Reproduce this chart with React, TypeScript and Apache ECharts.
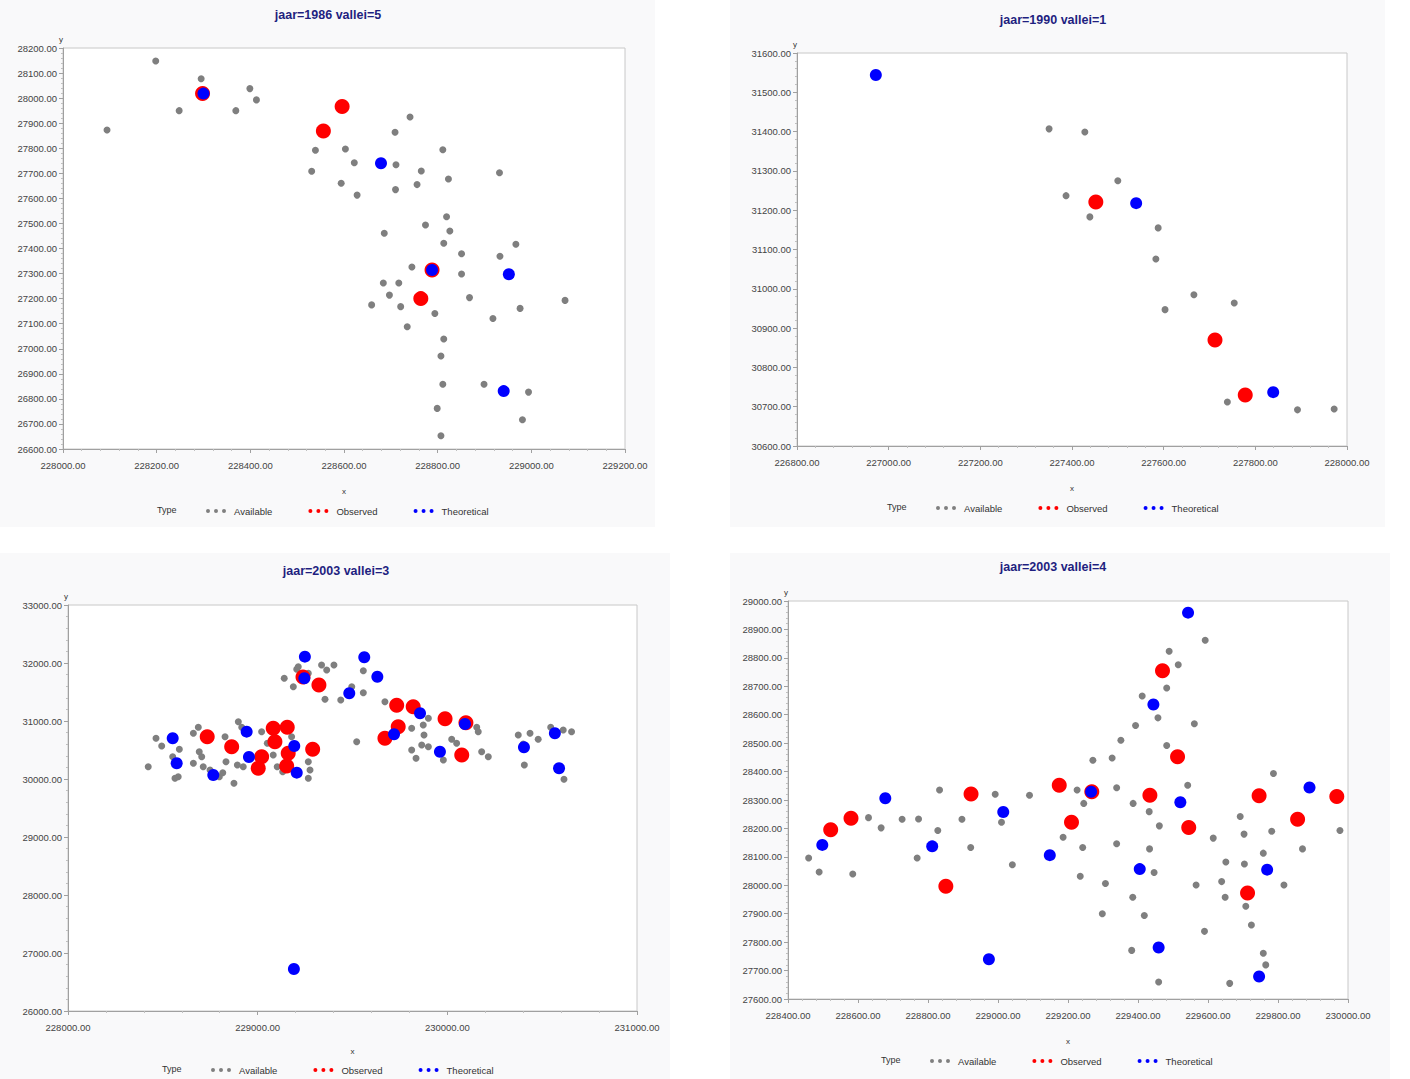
import React, { useEffect, useRef } from "react";
import * as echarts from "echarts";

// ---------- Data (x, y) ----------
const typeNames = ["Available", "Observed", "Theoretical"];
const panelTitles = ["jaar=1986 vallei=5", "jaar=1990 vallei=1", "jaar=2003 vallei=3", "jaar=2003 vallei=4"];

const p1Available: number[][] = [
  [228198, 28148], [228295, 28077], [228399, 28038], [228413, 27993], [228248, 27950], [228369, 27950],
  [228094, 27873], [228741, 27925], [228709, 27864], [228539, 27792], [228603, 27797], [228811, 27794],
  [228622, 27742], [228711, 27734], [228765, 27709], [228531, 27708], [228932, 27702], [228823, 27677],
  [228594, 27660], [228756, 27655], [228710, 27635], [228628, 27613], [228819, 27527], [228774, 27494],
  [228826, 27470], [228686, 27461], [228813, 27421], [228967, 27417], [228851, 27379], [228933, 27369],
  [228745, 27326], [228851, 27298], [228684, 27262], [228717, 27262], [228697, 27214], [228868, 27204],
  [229072, 27193], [228659, 27175], [228721, 27168], [228976, 27161], [228794, 27141], [228918, 27121],
  [228735, 27088], [228813, 27039], [228807, 26971], [228811, 26858], [228899, 26858], [228994, 26827],
  [228799, 26762], [228981, 26717], [228807, 26653]
];
const p1Observed: number[][] = [
  [228298, 28018], [228596, 27967], [228556, 27869], [228788, 27314], [228764, 27200]
];
const p1Theoretical: number[][] = [
  [228300, 28018], [228679, 27740], [228788, 27314], [228952, 27297], [228941, 26831]
];

const p2Available: number[][] = [
  [227350, 31407], [227428, 31399], [227387, 31237], [227500, 31275], [227439, 31183], [227588, 31155],
  [227583, 31076], [227666, 30985], [227603, 30947], [227754, 30964], [227739, 30712], [227892, 30692],
  [227972, 30694]
];
const p2Observed: number[][] = [
  [227452, 31221], [227712, 30870], [227778, 30730]
];
const p2Theoretical: number[][] = [
  [226972, 31544], [227540, 31218], [227839, 30737]
];

const p3Available: number[][] = [
  [228464, 30702], [228494, 30569], [228587, 30512], [228423, 30212], [228552, 30385], [228581, 30040],
  [228564, 30012], [228661, 30788], [228687, 30892], [228661, 30271], [228692, 30471], [228705, 30385],
  [228713, 30212], [228749, 30155], [228798, 30040], [228816, 30109], [228833, 30298], [228875, 29926],
  [228898, 30988], [228916, 30892], [228893, 30242], [228924, 30212], [228828, 30729], [229021, 30816],
  [229051, 30616], [229082, 30414], [229103, 30212], [229132, 30126], [229179, 30729], [229267, 30298],
  [229276, 30155], [229267, 30012], [229140, 31736], [229188, 31591], [229206, 31891], [229214, 31936],
  [229267, 31822], [229337, 31966], [229364, 31879], [229402, 31966], [229355, 31374], [229438, 31362],
  [229496, 31591], [229557, 31867], [229557, 31488], [229522, 30643], [229671, 31333], [229812, 30874],
  [229873, 30931], [229877, 30759], [229900, 31047], [229812, 30500], [229835, 30357], [229865, 30586],
  [229900, 30557], [229979, 30328], [230023, 30685], [230049, 30616], [230155, 30892], [230163, 30816],
  [230181, 30471], [230216, 30385], [230374, 30759], [230400, 30604], [230436, 30788], [230479, 30685],
  [230406, 30242], [230545, 30892], [230611, 30845], [230655, 30816], [230615, 29995]
];
const p3Observed: number[][] = [
  [229239, 31759], [229323, 31621], [229733, 31271], [229820, 31247], [229988, 31040], [230098, 30971],
  [228734, 30729], [229082, 30874], [229156, 30892], [229741, 30902], [228863, 30557], [229091, 30643],
  [229290, 30512], [229671, 30702], [229021, 30385], [229161, 30443], [229003, 30185], [229153, 30224],
  [230076, 30414]
];
const p3Theoretical: number[][] = [
  [229249, 32109], [229562, 32098], [229631, 31764], [229246, 31736], [229483, 31478], [229856, 31133],
  [230093, 30948], [228942, 30816], [228552, 30702], [229719, 30771], [229193, 30569], [228954, 30380],
  [230404, 30547], [230567, 30788], [229961, 30471], [228573, 30271], [228766, 30069], [229206, 30109],
  [230589, 30185], [229191, 26725]
];

const p4Available: number[][] = [
  [229592, 28862], [229489, 28823], [229515, 28776], [229482, 28694], [229412, 28666], [229457, 28589],
  [229393, 28562], [229561, 28568], [229351, 28510], [229326, 28448], [229271, 28440], [229482, 28492],
  [229787, 28393], [229542, 28352], [229339, 28343], [229226, 28335], [229245, 28288], [229386, 28288],
  [229090, 28317], [228992, 28320], [228833, 28335], [229432, 28259], [228630, 28238], [228726, 28232],
  [228773, 28233], [228897, 28232], [229010, 28222], [228666, 28202], [228828, 28193], [229461, 28209],
  [229692, 28242], [229703, 28180], [229782, 28190], [229615, 28166], [229186, 28169], [228459, 28096],
  [228769, 28096], [228922, 28133], [229242, 28133], [229339, 28146], [229433, 28128], [229758, 28113],
  [229870, 28128], [229041, 28072], [229651, 28082], [229704, 28075], [228489, 28047], [228585, 28040],
  [229446, 28045], [229235, 28032], [229307, 28006], [229566, 28001], [229639, 28013], [229817, 28001],
  [229385, 27958], [229649, 27958], [229298, 27900], [229418, 27894], [229708, 27926], [229724, 27860],
  [229590, 27838], [229382, 27771], [229758, 27761], [229765, 27720], [229459, 27660], [229662, 27655],
  [229977, 28193]
];
const p4Observed: number[][] = [
  [229470, 28755], [229513, 28452], [229175, 28352], [228923, 28321], [229268, 28329], [229434, 28317],
  [229746, 28315], [229968, 28312], [228580, 28236], [228522, 28195], [229210, 28222], [229545, 28203],
  [229856, 28232], [228851, 27997], [229713, 27973]
];
const p4Theoretical: number[][] = [
  [229543, 28959], [229444, 28636], [228678, 28306], [229266, 28329], [229521, 28292], [229890, 28344],
  [229015, 28258], [228498, 28142], [228812, 28137], [229148, 28106], [229405, 28057], [229769, 28055],
  [229459, 27781], [228974, 27740], [229746, 27679]
];

// axis scales: [min, max, interval]
const xScales = [[228000, 229200, 200], [226800, 228000, 200], [228000, 231000, 1000], [228400, 230000, 200]];
const yScales = [[26600, 28200, 100], [30600, 31600, 100], [26000, 33000, 1000], [27600, 29000, 100]];

// ---------- Layout ----------
const layout = [
  { grid: { left: 63, top: 48, width: 562, height: 401 }, titleX: 323, titleY: 3, legendLeft: 201, legendTop: 504, typeX: 157, nameGap: 38, bg: [0, 0, 655, 527] },
  { grid: { left: 797, top: 53, width: 550, height: 393 }, titleX: 1048, titleY: 8, legendLeft: 931, legendTop: 501, typeX: 887, nameGap: 38, bg: [730, 0, 655, 527] },
  { grid: { left: 68, top: 605, width: 569, height: 406 }, titleX: 331, titleY: 559, legendLeft: 206, legendTop: 1063, typeX: 162, nameGap: 36, bg: [0, 553, 670, 526] },
  { grid: { left: 788, top: 601, width: 560, height: 398 }, titleX: 1048, titleY: 555, legendLeft: 925, legendTop: 1054, typeX: 881, nameGap: 38, bg: [730, 553, 660, 526] },
];

const dataSets = [
  [p1Available, p1Observed, p1Theoretical],
  [p2Available, p2Observed, p2Theoretical],
  [p3Available, p3Observed, p3Theoretical],
  [p4Available, p4Observed, p4Theoretical],
];

const colors = ["#7f7f7f", "#ff0000", "#0000ff"];
const sizes = [7, 15, 12];
const FONT = "Liberation Sans, Arial, sans-serif";
const dotsIcon =
  "path://M0,2a2,2 0 1,0 4,0a2,2 0 1,0 -4,0M8,2a2,2 0 1,0 4,0a2,2 0 1,0 -4,0M16,2a2,2 0 1,0 4,0a2,2 0 1,0 -4,0";

function buildOption() {
  const grids: any[] = [];
  const xAxes: any[] = [];
  const yAxes: any[] = [];
  const titles: any[] = [];
  const legends: any[] = [];
  const series: any[] = [];
  const graphics: any[] = [];

  layout.forEach((l, i) => {
    graphics.push({
      type: "rect",
      z: -100,
      silent: true,
      shape: { x: l.bg[0], y: l.bg[1], width: l.bg[2], height: l.bg[3] },
      style: { fill: "#f9f9fa" },
    });
    graphics.push({
      type: "text",
      left: l.typeX,
      top: l.legendTop + 1,
      style: { text: "Type", fontSize: 9, fill: "#333", fontFamily: FONT },
    });
    grids.push({
      ...l.grid,
      show: true,
      backgroundColor: "#ffffff",
      borderColor: "#c8c8c8",
      borderWidth: 1,
      containLabel: false,
    });
    const [xmin, xmax, xint] = xScales[i];
    const [ymin, ymax, yint] = yScales[i];
    xAxes.push({
      type: "value",
      gridIndex: i,
      min: xmin,
      max: xmax,
      interval: xint,
      name: "x",
      nameLocation: "middle",
      nameGap: l.nameGap,
      nameTextStyle: { fontSize: 8, color: "#333", fontFamily: FONT },
      axisLine: { show: true, lineStyle: { color: "#a0a0a0" } },
      axisTick: { show: true, length: 4, lineStyle: { color: "#a0a0a0" } },
      minorTick: { show: true, splitNumber: 5, length: 2, lineStyle: { color: "#c0c0c0" } },
      splitLine: { show: false },
      axisLabel: {
        fontSize: 9.5,
        color: "#444",
        fontFamily: FONT,
        margin: 11,
        showMinLabel: true,
        showMaxLabel: true,
        formatter: (v: number) => v.toFixed(2),
      },
    });
    yAxes.push({
      type: "value",
      gridIndex: i,
      min: ymin,
      max: ymax,
      interval: yint,
      name: "y",
      nameLocation: "end",
      nameGap: 2,
      nameTextStyle: { fontSize: 8, color: "#333", fontFamily: FONT, align: "right" },
      axisLine: { show: true, lineStyle: { color: "#a0a0a0" } },
      axisTick: { show: true, length: 4, lineStyle: { color: "#a0a0a0" } },
      minorTick: { show: true, splitNumber: 5, length: 2, lineStyle: { color: "#c0c0c0" } },
      splitLine: { show: false },
      axisLabel: {
        fontSize: 9.5,
        color: "#444",
        fontFamily: FONT,
        margin: 6,
        showMinLabel: true,
        showMaxLabel: true,
        formatter: (v: number) => v.toFixed(2),
      },
    });
    titles.push({
      text: panelTitles[i],
      left: l.titleX,
      top: l.titleY,
      textAlign: "center",
      textStyle: { fontSize: 12.5, fontWeight: "bold", color: "#1f1f80", fontFamily: FONT },
    });
    legends.push({
      left: l.legendLeft,
      top: l.legendTop,
      orient: "horizontal",
      icon: dotsIcon,
      itemWidth: 20,
      itemHeight: 4,
      itemGap: 36,
      padding: [2, 5, 2, 5],
      selectedMode: false,
      data: typeNames.map((n, k) => ({ name: n, itemStyle: { color: colors[k] } })),
      textStyle: { fontSize: 9.5, color: "#333", fontFamily: FONT, padding: [0, 0, 0, 3] },
    });
    dataSets[i].forEach((d, k) => {
      series.push({
        type: "scatter",
        name: typeNames[k],
        xAxisIndex: i,
        yAxisIndex: i,
        data: d,
        symbol: "circle",
        symbolSize: sizes[k],
        z: 2 + k,
        itemStyle: { color: colors[k], opacity: 1 },
        emphasis: { disabled: true },
      });
    });
  });

  return {
    animation: false,
    backgroundColor: "#ffffff",
    textStyle: { fontFamily: FONT },
    title: titles,
    grid: grids,
    xAxis: xAxes,
    yAxis: yAxes,
    legend: legends,
    graphic: graphics,
    series,
  };
}

export default function App() {
  const ref = useRef<HTMLDivElement>(null);
  useEffect(() => {
    if (!ref.current) return;
    const chart = echarts.init(ref.current, undefined, { renderer: "svg" });
    chart.setOption(buildOption() as any);
    return () => chart.dispose();
  }, []);
  return (
    <div
      ref={ref}
      style={{ position: "absolute", left: 0, top: 0, width: 1410, height: 1079 }}
    />
  );
}
